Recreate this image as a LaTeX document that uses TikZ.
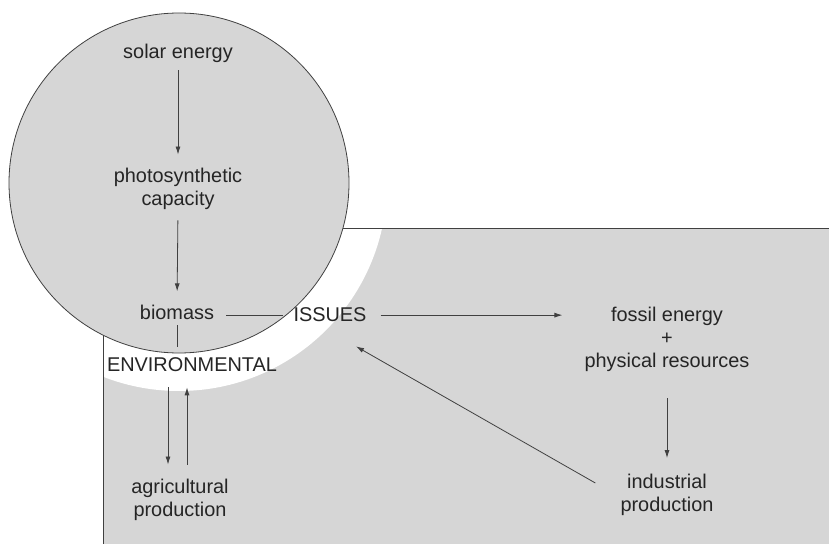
\documentclass[tikz,border=0pt]{standalone}
\usepackage{fontspec}
\setmainfont{Liberation Sans}
\usetikzlibrary{arrows.meta,calc}
\definecolor{fillg}{HTML}{D6D6D6}
\definecolor{lineg}{HTML}{404040}
\definecolor{txt}{HTML}{252525}
\begin{document}
\begin{tikzpicture}[x=1bp,y=-1bp,
  lbl/.style={inner sep=0pt,text=txt,font=\fontsize{19.9bp}{23bp}\selectfont,align=center},
  arr/.style={draw=lineg,line width=0.8bp,-{Latex[length=8bp,width=5bp]}},
  ln/.style={draw=lineg,line width=0.8bp}]
\useasboundingbox (0,0) rectangle (829,544);
\begin{scope}
\clip (0,0) rectangle (829,544);
\fill[fillg] (103,229) rectangle (840,560);
\fill[white] (179,183) circle[radius=208];
\draw[lineg,line width=1bp] (103,560) -- (103,229) -- (840,229);
\draw[lineg,line width=0.8bp,fill=fillg] (179,183) circle[radius=170];
\end{scope}
\node[lbl,anchor=base] (solar) at (178,59) {solar energy};
\node[lbl] (photo) at (178,188.5) {photosynthetic\\capacity};
\node[lbl,anchor=base] (bio) at (177,320) {biomass};
\node[lbl,anchor=base] (iss) at (330,322) {ISSUES};
\node[lbl,anchor=base] (env) at (192,371) {ENVIRONMENTAL};
\node[lbl] (agri) at (180,499.5) {agricultural\\production};
\node[lbl] (fossil) at (667,339) {fossil energy\\+\\physical resources};
\node[lbl] (ind) at (667,495) {industrial\\production};
\draw[arr,shorten <=7bp,shorten >=13bp] (solar.south) -- (photo.north);
\draw[arr,shorten <=11bp,shorten >=14bp] (photo.south) -- (bio.north);
\draw[ln,shorten <=12bp,shorten >=10bp] (bio.east |- iss.west) -- (iss.west);
\draw[arr,shorten <=14bp,shorten >=22bp] (iss.east) -- (iss.east -| fossil.west);
\draw[ln,shorten <=5bp,shorten >=9.5bp] (bio.south) -- (bio.south |- env.north);
\draw[arr,shorten <=16bp,shorten >=14bp] ($(agri.north |- env.south)+(-12,0)$) -- ($(agri.north)+(-12,0)$);
\draw[arr,shorten <=14bp,shorten >=16bp] ($(agri.north)+(7,0)$) -- ($(agri.north |- env.south)+(7,0)$);
\draw[arr,shorten <=27bp,shorten >=16bp] (fossil.south) -- (ind.north);
\draw[arr] ($(ind.west)+(-25,-12)$) -- ($(iss.south)+(26,24)$);
\end{tikzpicture}
\end{document}
